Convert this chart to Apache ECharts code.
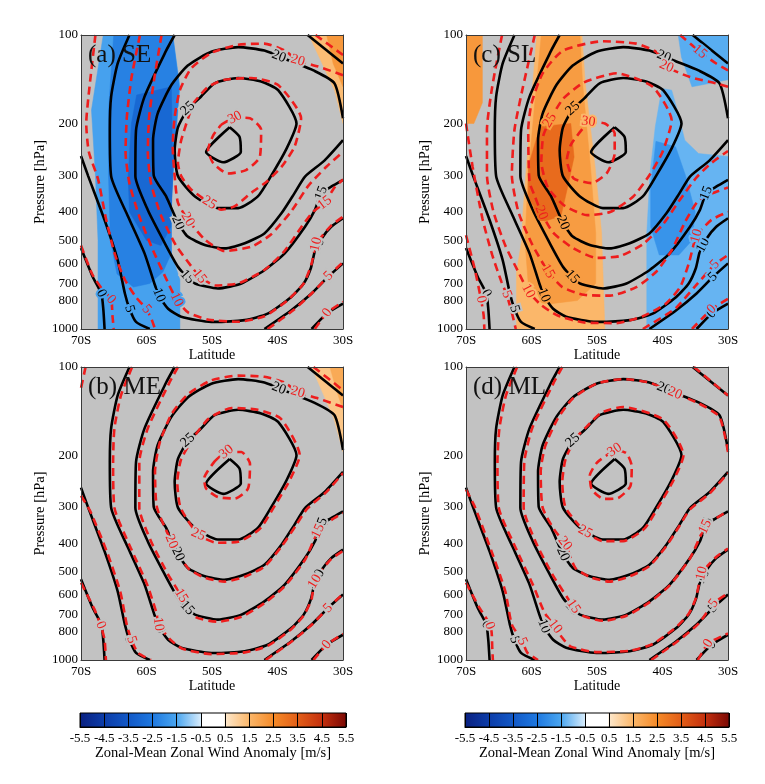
<!DOCTYPE html>
<html><head><meta charset="utf-8">
<script src="https://cdn.jsdelivr.net/npm/echarts@6/dist/echarts.min.js"></script>
<style>html,body{margin:0;padding:0;background:#fff}#chart{width:765px;height:784px}</style>
</head><body><div id="chart"></div>
<script>
// ---------- axis ticks ----------
const LAT_TICKS = [-70, -60, -50, -40, -30];
const P_TICKS = [100, 200, 300, 400, 500, 600, 700, 800, 1000];
const CBAR_TICKS = [-5.5, -4.5, -3.5, -2.5, -1.5, -0.5, 0.5, 1.5, 2.5, 3.5, 4.5, 5.5];
const CMAP_V = [-5.5, -4.5, -3.5, -2.5, -1.5, -0.5, -0.45, 0.45, 0.5, 1.5, 2.5, 3.5, 4.5, 5.5];
const CMAP_C = ['#0a2080', '#0c3ca8', '#1258c6', '#1e78e0', '#4aa6f0', '#d6ebfb', '#ffffff', '#ffffff', '#fde8cc', '#fbb76a', '#f58a28', '#e25e18', '#c4300e', '#7a0804'];

// ---------- control run contours (black, identical in all panels) [lat, hPa] ----------
const CTL_0_L = [[-70,530],[-68.2,665],[-66.9,757],[-66.6,853],[-66.4,1000]];
const CTL_0_R = [[-34.8,1000],[-32.5,887],[-30,820]];
const CTL_5_L = [[-70,258],[-68.9,302],[-66.4,426],[-64.4,583],[-63.3,757],[-62.6,853],[-61.6,946],[-59.5,1000]];
const CTL_5_R = [[-42,1000],[-37.9,863],[-34.8,757],[-32.3,665],[-30,598]];
const CTL_10 = [[-62.6,100],[-64.4,125],[-65.4,162],[-65.6,211],[-65.4,302],[-62.8,415],[-60.3,553],[-58.8,700],[-58.1,767],[-56.7,853],[-54.7,908],[-50.1,946],[-45,933],[-41.5,887],[-37.9,778],[-36,700],[-34.9,620],[-34.3,545],[-33.2,490],[-31.8,449],[-30,420]];
const CTL_15 = [[-55.7,100],[-57,113],[-60.3,162],[-61.6,211],[-61.7,302],[-59.8,394],[-57.2,511],[-55.2,614],[-53.8,665],[-52.6,700],[-49.1,728],[-45.5,700],[-42,631],[-38.9,553],[-35.8,449],[-34.3,394],[-33.3,345],[-31.8,328],[-30,311]];
const CTL_15_C = [[-35.4,100],[-30,125]];
const CTL_20 = [[-30,192],[-31.3,146],[-34.5,132],[-37.9,123],[-42,113],[-46,110],[-50.1,114],[-53.7,127],[-56.2,148],[-58.3,185],[-59,228],[-58.9,300],[-57,354],[-55.2,435],[-53.7,485],[-51.1,518],[-48.1,532],[-45,511],[-42,473],[-39.4,404],[-37.4,345],[-35.8,303],[-32.8,267],[-30,228]];
const CTL_25 = [[-53.7,178],[-51.9,164],[-49.6,146],[-46,140],[-42.5,144],[-39.9,154],[-37.1,200],[-38.6,243],[-41,302],[-43,354],[-46,388],[-49.1,388],[-52.6,354],[-55.2,302],[-55.7,247],[-55.2,206],[-53.7,178]];
const CTL_30 = [[-47.3,206],[-45.8,222],[-45.6,250],[-48.3,271],[-50.9,250],[-47.3,206]];
const CTL_LINES = [[0,CTL_0_L],[0,CTL_0_R],[5,CTL_5_L],[5,CTL_5_R],[10,CTL_10],[15,CTL_15],[15,CTL_15_C],[20,CTL_20],[25,CTL_25],[30,CTL_30]];
const CTL_LABELS = [[20,-39.7,117],[25,-53.7,178],[20,-55.2,435],[15,-53.8,665],[10,-58.1,767],[5,-62.6,853],[0,-66.9,757],[15,-33.3,345],[10,-34.1,515],[5,-32.3,665],[0,-32.5,887]];

// ---------- (a) SE experiment contours (red dashed) ----------
const SE_0_L = [[-70,520],[-68.3,650],[-66.8,730],[-65.4,794],[-65.2,900],[-65,1000]];
const SE_0_R = [[-34.3,1000],[-32.4,880],[-30,808]];
const SE_5_L = [[-67.8,100],[-68.7,150],[-69.2,200],[-68.8,250],[-67.4,309],[-66.2,420],[-64.8,560],[-63.3,680],[-61.6,780],[-60,857],[-59.2,930],[-58.7,1000]];
const SE_5_R = [[-41.5,1000],[-37.5,860],[-34.6,750],[-32.2,660],[-30,592]];
const SE_10 = [[-61,100],[-62.3,140],[-63,190],[-63.2,250],[-62.6,320],[-61,420],[-59,540],[-57.2,660],[-55.4,794],[-53.6,880],[-50.5,930],[-46,945],[-42,905],[-38.5,800],[-36,700],[-34.8,600],[-34.1,515],[-31.8,445],[-30,415]];
const SE_15 = [[-57.7,100],[-58.8,140],[-59.6,190],[-59.8,250],[-59.3,320],[-57.8,410],[-55.5,520],[-53.2,610],[-51.9,662],[-49.5,711],[-46,700],[-42,630],[-39,545],[-36.2,445],[-34.6,400],[-32.8,372],[-31.3,330],[-30,310]];
const SE_15_C = [[-34.2,100],[-30,117]];
const SE_20 = [[-30,137],[-33.8,128],[-36.9,122],[-38.9,113],[-42,107],[-46,108],[-50.1,115],[-53.2,130],[-54.9,154],[-55.7,190],[-56,240],[-55.7,302],[-55.2,372],[-53.7,424],[-51.1,496],[-48.1,543],[-44,525],[-41,477],[-37.9,398],[-35.3,326],[-32.5,280],[-30,250]];
const SE_25 = [[-52.9,171],[-50.6,150],[-48.1,142],[-44,140],[-39.9,148],[-36.4,192],[-37.4,240],[-39.4,281],[-41.7,316],[-44,344],[-46.5,382],[-48.6,393],[-50.4,372],[-53.2,335],[-54.7,302],[-55.2,273],[-54.7,228],[-52.9,171]];
const SE_30 = [[-48.6,202],[-46.5,191],[-44.2,192],[-42.5,210],[-42.7,260],[-44.8,288],[-47.6,296],[-49.8,273],[-50.6,246],[-49.8,219],[-48.6,202]];
const SE_LINES = [[0,SE_0_L],[0,SE_0_R],[5,SE_5_L],[5,SE_5_R],[10,SE_10],[15,SE_15],[15,SE_15_C],[20,SE_20],[25,SE_25],[30,SE_30]];
const SE_LABELS = [[20,-36.9,122],[30,-46.5,191],[25,-50.4,372],[20,-53.7,424],[15,-51.9,662],[10,-55.4,794],[5,-60,857],[0,-65.4,794],[15,-32.8,372],[10,-34.1,515],[5,-32.2,660],[0,-32.4,880]];
// (a) anomaly shading [level m/s, polygon]
const SE_BLUE_1 = [[-66.6,100],[-56,100],[-54.9,150],[-55.7,246],[-56.2,363],[-56.2,552],[-54.9,680],[-54.9,1000],[-67.4,1000],[-67.4,500],[-67.8,300],[-68.4,180]];
const SE_BLUE_2 = [[-65,100],[-56,100],[-55,150],[-55.7,246],[-56.2,363],[-56.2,552],[-57.5,640],[-59.5,700],[-62,720],[-64.5,650],[-65.5,500],[-65.8,300],[-65.8,180]];
const SE_BLUE_3 = [[-61.5,160],[-56.2,150],[-56,300],[-56.3,450],[-57.8,520],[-60,500],[-62.6,400],[-62.8,300],[-62.3,200]];
const SE_ORANGE_1 = [[-35.2,100],[-30,100],[-30,200],[-31.3,154]];
const SE_ORANGE_2 = [[-32.5,100],[-30,100],[-30,150],[-31.5,125]];
const SE_SHADE = [[-1.6,SE_BLUE_1],[-2.3,SE_BLUE_2],[-3.0,SE_BLUE_3],[1.4,SE_ORANGE_1],[2.2,SE_ORANGE_2]];

// ---------- (b) ME ----------
const ME_0_L = [[-70,545],[-68,668],[-67,760],[-66.4,853],[-66.2,1000]];
const ME_0_R = [[-34.5,1000],[-32.5,887],[-30,815]];
const ME_5_C = [[-69.3,100],[-70,118]];
const ME_5_L = [[-70,275],[-68.6,310],[-66,430],[-64,585],[-63,760],[-62.3,853],[-61.3,946],[-59.3,1000]];
const ME_5_R = [[-41.8,1000],[-37.7,860],[-34.6,752],[-32.3,665],[-30,595]];
const ME_10 = [[-62.2,100],[-63.9,125],[-64.9,162],[-65.1,211],[-64.9,302],[-62.4,415],[-59.9,553],[-58.4,700],[-58.2,754],[-56.4,850],[-54.5,915],[-50.1,955],[-45,942],[-41.5,895],[-37.9,785],[-36,705],[-34.8,620],[-34.4,545],[-33.2,492],[-31.8,452],[-30,424]];
const ME_15 = [[-55.2,100],[-56.5,113],[-59.8,162],[-61.1,211],[-61.1,302],[-59.3,394],[-56.7,511],[-54.7,603],[-52.6,712],[-49.1,740],[-45.5,712],[-42,640],[-38.9,560],[-35.8,455],[-33.8,363],[-31.8,333],[-30,315]];
const ME_15_C = [[-34.5,100],[-30,120]];
const ME_20 = [[-30,137],[-33.8,128],[-36.9,122],[-38.9,113],[-42,108],[-46,107],[-50.1,111],[-53.7,124],[-56.2,145],[-58,182],[-58.7,228],[-58.4,302],[-56.2,394],[-55,440],[-53.5,490],[-51,525],[-48.1,540],[-45,520],[-42,480],[-39.4,410],[-37.2,348],[-35.5,305],[-32.6,268],[-30,230]];
const ME_25 = [[-52.5,170],[-50.5,150],[-47,138],[-43,140],[-39.5,150],[-36.6,200],[-38.2,245],[-40.6,302],[-42.7,357],[-46,395],[-49.3,398],[-52.1,373],[-54.8,302],[-55.3,247],[-54.7,206],[-52.5,170]];
const ME_30 = [[-49.6,210],[-47.8,195],[-45.5,195],[-44.2,214],[-44.5,260],[-46.5,281],[-49.1,278],[-50.9,260],[-51.2,240],[-49.6,210]];
const ME_LINES = [[0,ME_0_L],[0,ME_0_R],[5,ME_5_C],[5,ME_5_L],[5,ME_5_R],[10,ME_10],[15,ME_15],[15,ME_15_C],[20,ME_20],[25,ME_25],[30,ME_30]];
const ME_LABELS = [[20,-36.9,122],[30,-47.8,195],[25,-52.1,373],[20,-56.2,394],[15,-54.7,603],[10,-58.2,754],[5,-62.3,853],[0,-67,760],[15,-33.8,363],[10,-34.8,532],[5,-32.3,665],[0,-32.5,887]];
const ME_ORANGE_1 = [[-34.8,100],[-30,100],[-30,195],[-31.4,150]];
const ME_ORANGE_2 = [[-32,100],[-30,100],[-30,140],[-31,120]];
const ME_SHADE = [[1.2,ME_ORANGE_1],[1.8,ME_ORANGE_2]];

// ---------- (c) SL ----------
const SL_0_L = [[-70,480],[-68.7,620],[-67.7,794],[-67.3,900],[-67.2,1000]];
const SL_0_R = [[-35.5,1000],[-32.5,857],[-30,790]];
const SL_5_L = [[-70,200],[-69,280],[-67.5,420],[-66,560],[-64.6,690],[-63.8,763],[-63,880],[-62.4,1000]];
const SL_5_R = [[-43,1000],[-38,850],[-35,715],[-32,603],[-30,560]];
const SL_10 = [[-64.5,100],[-66,150],[-66.8,210],[-66.8,300],[-65.8,400],[-64,520],[-62,640],[-60.5,743],[-58.5,830],[-56,900],[-52,950],[-47,955],[-43,905],[-39.5,820],[-37.3,720],[-36,600],[-34.8,483],[-32.5,425],[-30,400]];
const SL_15 = [[-59.5,100],[-61.3,150],[-62.6,210],[-63,300],[-62,400],[-60,510],[-57.5,636],[-55.3,720],[-52,765],[-48,770],[-44,720],[-41,640],[-38.6,540],[-36.5,430],[-34.5,365],[-32.3,345],[-30,330]];
const SL_15_C = [[-37.3,100],[-34.3,114],[-31.8,125],[-30,132]];
const SL_20 = [[-30,150],[-31.8,146],[-35.8,139],[-39.4,128],[-41,114],[-44,107],[-49.1,105],[-55.2,113],[-58.3,135],[-60,171],[-60.5,210],[-60.3,316],[-59.5,353],[-58.5,402],[-56.7,470],[-53.7,530],[-50.1,573],[-46.5,565],[-43,515],[-39.9,440],[-37.4,365],[-34.8,305],[-32.5,272],[-30,248]];
const SL_25 = [[-57.2,195],[-55.2,165],[-52,145],[-47,135],[-41.5,150],[-38.6,195],[-40,250],[-42,300],[-44.5,355],[-48,400],[-51.5,410],[-55,380],[-57.5,330],[-58.5,270],[-58.2,220],[-57.2,195]];
const SL_30 = [[-51.3,197],[-48.8,200],[-47.3,216],[-47.3,253],[-48.5,295],[-50.8,319],[-53.6,307],[-54.6,266],[-53.9,234],[-51.3,197]];
const SL_LINES = [[0,SL_0_L],[0,SL_0_R],[5,SL_5_L],[5,SL_5_R],[10,SL_10],[15,SL_15],[15,SL_15_C],[20,SL_20],[25,SL_25],[30,SL_30]];
const SL_LABELS = [[20,-39.4,128],[30,-51.3,197],[25,-57.2,195],[20,-58.5,402],[15,-57.5,636],[10,-60.5,743],[5,-63.8,763],[0,-67.7,794],[15,-34.3,114],[10,-34.8,483],[5,-32,603],[0,-32.5,857]];
const SL_ORANGE_1 = [[-59.2,100],[-52.3,100],[-51.8,146],[-50.3,280],[-49.3,471],[-48.8,1000],[-62.3,1000],[-62.3,645],[-61.5,500],[-61.3,400],[-60,166]];
const SL_ORANGE_2 = [[-58.5,100],[-52.6,100],[-52.2,146],[-51,280],[-50.2,471],[-50.2,700],[-53,800],[-57,820],[-60.5,700],[-61,500],[-60.5,300],[-59.5,170]];
const SL_ORANGE_3 = [[-58.7,205],[-54,200],[-53.5,260],[-54.5,330],[-55.5,413],[-58,430],[-60.5,360],[-60.5,280]];
const SL_ORANGE_TL = [[-70,100],[-67.5,100],[-67.5,170],[-68.8,200],[-70,200]];
const SL_BLUE_1 = [[-40.1,152],[-38.6,154],[-37.6,185],[-36.6,228],[-34.5,253],[-30,259],[-30,1000],[-42.4,1000],[-42.4,473],[-41.9,295],[-41.1,205]];
const SL_BLUE_TR = [[-37.6,100],[-30,100],[-30,142],[-35.5,150],[-37.1,119]];
const SL_BLUE_2 = [[-41,230],[-38,240],[-36.5,300],[-35,400],[-35.5,500],[-37.5,560],[-40.5,560],[-41.8,450],[-41.8,330]];
const SL_SHADE = [[1.5,SL_ORANGE_1],[2.1,SL_ORANGE_2],[3.2,SL_ORANGE_3],[2.2,SL_ORANGE_TL],[-1.3,SL_BLUE_1],[-1.4,SL_BLUE_TR],[-1.9,SL_BLUE_2]];

// ---------- (d) ML ----------
const ML_0_L = [[-70,545],[-68,660],[-66.6,740],[-66.1,800],[-66,900],[-65.9,1000]];
const ML_0_R = [[-34.6,1000],[-33,877],[-30,812]];
const ML_5_L = [[-70,262],[-68.6,302],[-66.1,426],[-64,583],[-63,757],[-61.5,855],[-60.6,946],[-59,1000]];
const ML_5_R = [[-41.7,1000],[-37.6,860],[-34.5,752],[-32.2,640],[-30,592]];
const ML_10 = [[-62.2,100],[-63.9,125],[-64.9,162],[-65.2,211],[-65,302],[-62.4,415],[-59.8,553],[-58,690],[-56.4,769],[-55.3,840],[-54,900],[-50,940],[-45,930],[-41.5,882],[-37.9,772],[-36,695],[-34.9,615],[-34,506],[-31.8,445],[-30,417]];
const ML_15 = [[-55.3,100],[-56.6,113],[-59.9,162],[-61.1,211],[-61.2,302],[-59.4,394],[-56.8,511],[-54.5,614],[-53.6,657],[-52.3,705],[-49,735],[-45.5,706],[-42,636],[-38.9,556],[-35.8,450],[-33.5,351],[-31.8,328],[-30,310]];
const ML_15_C = [[-35.2,100],[-30,125]];
const ML_20 = [[-30,195],[-31.3,148],[-34.5,133],[-38.1,123],[-42,113],[-46,110],[-50.1,114],[-53.7,128],[-56,150],[-57.9,186],[-58.6,228],[-58.3,302],[-56.5,360],[-54.9,400],[-53.3,485],[-51,522],[-48.1,540],[-45,518],[-42,478],[-39.4,408],[-37.4,348],[-35.8,306],[-32.8,270],[-30,230]];
const ML_25 = [[-53.3,175],[-51.6,160],[-49.3,143],[-46,137],[-39.9,151],[-36.8,200],[-38.3,243],[-40.7,302],[-42.8,357],[-46,393],[-49.1,393],[-51.8,365],[-54.8,302],[-55.3,247],[-54.8,206],[-53.3,175]];
const ML_30 = [[-48.5,200],[-47.3,192],[-45.5,197],[-44.7,218],[-44.9,255],[-46.8,280],[-49,282],[-50.8,262],[-51.1,235],[-50,212],[-48.5,200]];
const ML_LINES = [[0,ML_0_L],[0,ML_0_R],[5,ML_5_L],[5,ML_5_R],[10,ML_10],[15,ML_15],[15,ML_15_C],[20,ML_20],[25,ML_25],[30,ML_30]];
const ML_LABELS = [[20,-38.1,123],[30,-47.3,192],[25,-51.8,365],[20,-54.9,400],[15,-53.6,657],[10,-56.4,769],[5,-61,855],[0,-66.1,759],[15,-33.5,351],[10,-34,506],[5,-32.2,640],[0,-33,877]];
const ML_SHADE = [];

// ---------- layout ----------
const FONT = '"Liberation Serif","DejaVu Serif",serif';
const GRAY = '#c2c2c2';
const BLACK = '#000000';
const RED = '#ee1d1d';
const PANELS = [
  {title: '(a) SE', left: 81, top: 35, h: 294, lines: SE_LINES, labels: SE_LABELS, shade: SE_SHADE},
  {title: '(c) SL', left: 466, top: 35, h: 294, lines: SL_LINES, labels: SL_LABELS, shade: SL_SHADE},
  {title: '(b) ME', left: 81, top: 367, h: 293, lines: ME_LINES, labels: ME_LABELS, shade: ME_SHADE},
  {title: '(d) ML', left: 466, top: 367, h: 293, lines: ML_LINES, labels: ML_LABELS, shade: ML_SHADE}
];
const CBARS = [{left: 80, width: 266}, {left: 465, width: 264}];

function hexToRgb(h) { return [parseInt(h.slice(1,3),16), parseInt(h.slice(3,5),16), parseInt(h.slice(5,7),16)]; }
function cmap(v) {
  if (v <= CMAP_V[0]) return CMAP_C[0];
  for (let i = 1; i < CMAP_V.length; i++) {
    if (v <= CMAP_V[i]) {
      const t = (v - CMAP_V[i-1]) / (CMAP_V[i] - CMAP_V[i-1]);
      const a = hexToRgb(CMAP_C[i-1]), b = hexToRgb(CMAP_C[i]);
      const c = a.map((x, k) => Math.round(x + (b[k] - x) * t));
      return 'rgb(' + c.join(',') + ')';
    }
  }
  return CMAP_C[CMAP_C.length - 1];
}
function insidePoly(pt, poly) {
  let ins = false;
  for (let i = 0, j = poly.length - 1; i < poly.length; j = i++) {
    const xi = poly[i][0], yi = poly[i][1], xj = poly[j][0], yj = poly[j][1];
    if (((yi > pt[1]) !== (yj > pt[1])) && (pt[0] < (xj - xi) * (pt[1] - yi) / (yj - yi) + xi)) ins = !ins;
  }
  return ins;
}
function nearestOnLines(api, lines, level, pt) {
  let best = null;
  lines.forEach(([lv, arr]) => {
    if (lv !== level) return;
    const px = arr.map(q => api.coord(q));
    for (let k = 0; k < px.length - 1; k++) {
      const a = px[k], b = px[k+1];
      const dx = b[0]-a[0], dy = b[1]-a[1];
      const L2 = dx*dx + dy*dy || 1;
      let t = ((pt[0]-a[0])*dx + (pt[1]-a[1])*dy) / L2;
      t = Math.max(0, Math.min(1, t));
      const x = a[0] + t*dx, y = a[1] + t*dy;
      const d = (x-pt[0])*(x-pt[0]) + (y-pt[1])*(y-pt[1]);
      if (!best || d < best.d) best = {d, x, y, ang: Math.atan2(-dy, dx)};
    }
  });
  return best;
}

const grids = [], xAxes = [], yAxes = [], series = [], titles = [];
PANELS.forEach((P, i) => {
  grids.push({left: P.left, top: P.top, width: 262, height: P.h, show: true, backgroundColor: GRAY, borderWidth: 0});
  const axLine = {show: true, onZero: false, lineStyle: {color: '#3a3a3a', width: 1}};
  xAxes.push({gridIndex: i, type: 'value', min: -70, max: -30, interval: 10, z: 10,
    axisLine: axLine, axisTick: {show: false}, splitLine: {show: false},
    axisLabel: {customValues: LAT_TICKS, formatter: v => Math.abs(v) + 'S', fontFamily: FONT, fontSize: 13, color: '#000', margin: 5},
    name: 'Latitude', nameLocation: 'middle', nameGap: 18, nameTextStyle: {fontFamily: FONT, fontSize: 14, color: '#000'}});
  xAxes.push({gridIndex: i, type: 'value', position: 'top', min: -70, max: -30, z: 10,
    axisLine: axLine, axisTick: {show: false}, splitLine: {show: false}, axisLabel: {show: false}});
  yAxes.push({gridIndex: i, type: 'log', logBase: 10, min: 100, max: 1000, inverse: true, z: 10,
    axisLine: axLine, axisTick: {show: false}, splitLine: {show: false}, minorTick: {show: false},
    axisLabel: {customValues: P_TICKS, formatter: v => String(Math.round(v)), fontFamily: FONT, fontSize: 13, color: '#000', margin: 3},
    name: 'Pressure [hPa]', nameLocation: 'middle', nameGap: 33, nameRotate: 90, nameTextStyle: {fontFamily: FONT, fontSize: 14.5, color: '#000'}});
  yAxes.push({gridIndex: i, type: 'log', logBase: 10, min: 100, max: 1000, inverse: true, position: 'right', z: 10,
    axisLine: axLine, axisTick: {show: false}, splitLine: {show: false}, axisLabel: {show: false}});
  titles.push({text: P.title, left: P.left + 7, top: P.top + 8, padding: 0,
    textStyle: {fontFamily: FONT, fontSize: 25, fontWeight: 'normal', color: '#111'}});

  // shading
  if (P.shade.length) {
    series.push({type: 'custom', xAxisIndex: 2*i, yAxisIndex: 2*i, clip: true, silent: true, z: 1,
      data: P.shade.map(s => [s[1][0][0], s[1][0][1], s[0]]),
      renderItem: (params, api) => {
        const s = P.shade[params.dataIndex];
        const c = cmap(s[0]);
        return {type: 'polygon', shape: {points: s[1].map(q => api.coord(q))}, style: {fill: c, stroke: c, lineWidth: 0.5}};
      }});
  }
  // contour lines
  const addLines = (lines, color, dashed) => lines.forEach(([lv, arr]) => {
    series.push({type: 'line', xAxisIndex: 2*i, yAxisIndex: 2*i, data: arr, symbol: 'none', showSymbol: false,
      smooth: 0.2, silent: true, clip: true, z: dashed ? 4 : 3,
      lineStyle: {color: color, width: 2.6, type: dashed ? [8, 5] : 'solid'}});
  });
  addLines(CTL_LINES, BLACK, false);
  addLines(P.lines, RED, true);
  // contour labels
  const addLabels = (labels, lines, color, zz) => {
    series.push({type: 'custom', xAxisIndex: 2*i, yAxisIndex: 2*i, silent: true, z: zz, clip: false,
      data: labels.map(l => [l[1], l[2]]),
      renderItem: (params, api) => {
        const L = labels[params.dataIndex];
        const pt = api.coord([L[1], L[2]]);
        const b = nearestOnLines(api, lines, L[0], pt);
        let x = pt[0], y = pt[1], ang = 0;
        if (b && b.d < 400) { x = b.x; y = b.y; ang = b.ang; }
        if (ang > Math.PI/2) ang -= Math.PI;
        if (ang < -Math.PI/2) ang += Math.PI;
        let bg = GRAY;
        P.shade.forEach(s => { if (insidePoly([x, y], s[1].map(q => api.coord(q)))) bg = cmap(s[0]); });
        return {type: 'text', x: x, y: y, rotation: ang,
          style: {text: String(L[0]), fill: color, stroke: bg, lineWidth: 4, strokeFirst: true,
            fontFamily: FONT, fontSize: 14, align: 'center', verticalAlign: 'middle'}};
      }});
  };
  addLabels(CTL_LABELS, CTL_LINES, BLACK, 5);
  addLabels(P.labels, P.lines, RED, 6);
});

// colorbars
CBARS.forEach((C, k) => {
  const gi = 4 + k;
  grids.push({left: C.left, top: 713, width: C.width, height: 14, show: false});
  xAxes.push({gridIndex: gi, type: 'value', min: -5.5, max: 5.5, z: 10,
    axisLine: {show: true, onZero: false, lineStyle: {color: '#000', width: 1}},
    axisTick: {show: true, inside: true, length: 14, customValues: CBAR_TICKS, lineStyle: {color: '#000', width: 1}},
    splitLine: {show: false},
    axisLabel: {customValues: CBAR_TICKS, formatter: v => v.toFixed(1), fontFamily: FONT, fontSize: 13, color: '#000', margin: 5},
    name: 'Zonal-Mean Zonal Wind Anomaly [m/s]', nameLocation: 'middle', nameGap: 19,
    nameTextStyle: {fontFamily: FONT, fontSize: 14.5, color: '#000'}});
  yAxes.push({gridIndex: gi, type: 'value', min: 0, max: 1, show: false});
  series.push({type: 'custom', xAxisIndex: 8 + k, yAxisIndex: 8 + k, silent: true, z: 2,
    data: [[-5.5, 0, 5.5, 1]],
    renderItem: (params, api) => {
      const p0 = api.coord([api.value(0), api.value(3)]);
      const p1 = api.coord([api.value(2), api.value(1)]);
      const stops = CMAP_V.map((v, j) => ({offset: (v + 5.5) / 11, color: CMAP_C[j]}));
      return {type: 'rect', shape: {x: p0[0], y: p0[1], width: p1[0]-p0[0], height: p1[1]-p0[1]},
        style: {fill: new echarts.graphic.LinearGradient(0, 0, 1, 0, stops), stroke: '#000', lineWidth: 1}};
    }});
});

const chart = echarts.init(document.getElementById('chart'), null, {renderer: 'canvas'});
chart.setOption({
  animation: false,
  backgroundColor: '#ffffff',
  title: titles,
  grid: grids,
  xAxis: xAxes,
  yAxis: yAxes,
  series: series
});
</script></body></html>
